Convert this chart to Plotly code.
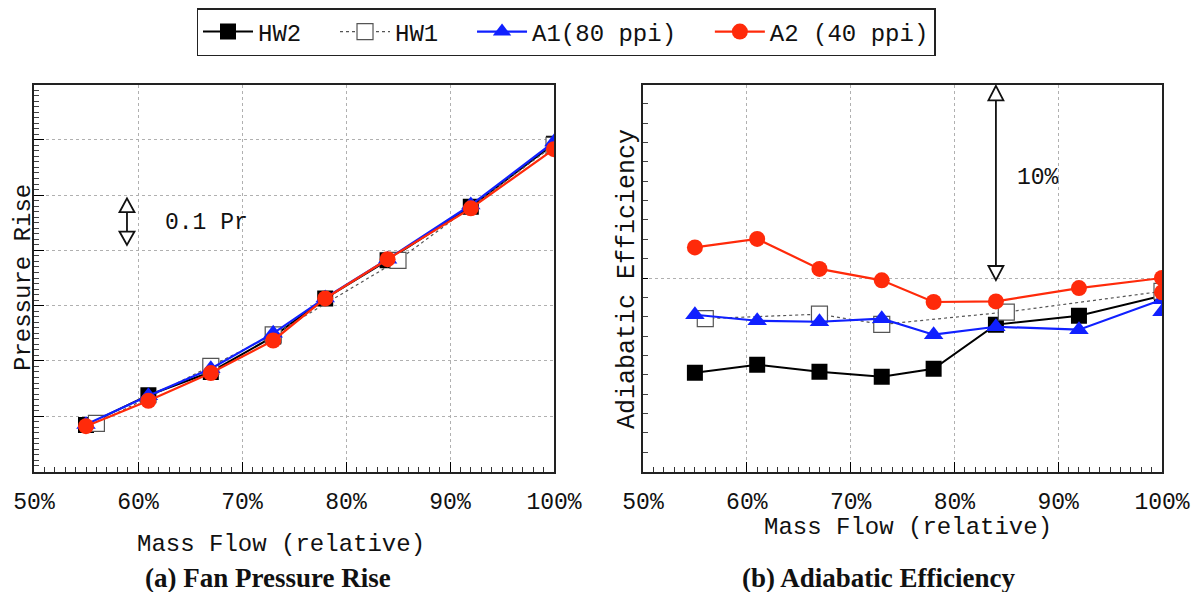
import plotly.graph_objects as go

# ---------------- data ----------------
# (a) Fan pressure rise (relative units, 1 grid = 0.1 Pr)
hw2_x = [55, 61, 67, 73, 78, 84, 92, 100]
hw2_pr = [0.84, 1.38, 1.80, 2.44, 3.13, 3.82, 4.79, 5.93]
hw1_x = [56, 67, 73, 85, 100]
hw1_pr = [0.87, 1.90, 2.47, 3.82, 5.90]
a1_x = [55, 61, 67, 73, 78, 84, 92, 100]
a1_pr = [0.85, 1.37, 1.86, 2.50, 3.14, 3.84, 4.82, 5.96]
a2_x = [55, 61, 67, 73, 78, 84, 92, 100]
a2_pr = [0.82, 1.28, 1.78, 2.37, 3.13, 3.84, 4.76, 5.83]

# (b) Adiabatic efficiency (relative, 1 unit = 1 %)
hw2_eff = [5.10, 5.52, 5.16, 4.90, 5.31, 7.59, 8.05, 9.08]
hw1_eff = [7.90, 8.13, 7.60, 8.24, 9.31]
a1_xe = [55, 61, 67, 73, 78, 84, 92, 100, 100]
a1_eff = [8.10, 7.79, 7.74, 7.90, 7.07, 7.48, 7.33, 8.88, 8.26]
a2_xe = [55, 61, 67, 73, 78, 84, 92, 100, 100]
a2_eff = [11.58, 12.02, 10.47, 9.88, 8.76, 8.79, 9.48, 10.00, 9.26]

x_ticks = [50, 60, 70, 80, 90, 100]
x_labels = ["50%", "60%", "70%", "80%", "90%", "100%"]

names = ["HW2", "HW1", "A1(80 ppi)", "A2 (40 ppi)"]

# ---------------- styles ----------------
MONO = "Liberation Mono"
SERIF = "Liberation Serif"
BLACK = "#000000"
BLUE = "#1020ff"
RED = "#ff2a0a"
W, H = 1200, 592
OFF = 8  # page body margin in the browser
PAD = "\u00a0\u00a0"  # spacing after legend entries

styles = {
    "HW2": dict(mode="lines+markers", line=dict(color=BLACK, width=2),
                marker=dict(symbol="square", size=16, color=BLACK)),
    "HW1": dict(mode="lines+markers", line=dict(color="#555555", width=1.2, dash="dot"),
                marker=dict(symbol="square", size=16, color="white",
                            line=dict(color="#555555", width=1.2))),
    "A1": dict(mode="lines+markers", line=dict(color=BLUE, width=2.2),
               marker=dict(symbol="triangle-up", size=17, color=BLUE)),
    "A2": dict(mode="lines+markers", line=dict(color=RED, width=2.2),
               marker=dict(symbol="circle", size=16, color=RED)),
}

fig = go.Figure()

series_left = [("HW2", hw2_x, hw2_pr), ("HW1", hw1_x, hw1_pr),
               ("A1", a1_x, a1_pr), ("A2", a2_x, a2_pr)]
series_right = [("HW2", hw2_x, hw2_eff), ("HW1", hw1_x, hw1_eff),
                ("A1", a1_xe, a1_eff), ("A2", a2_xe, a2_eff)]

for i, ((key, xs, ys), nm) in enumerate(zip(series_left, names)):
    label = nm + (PAD if i < len(names) - 1 else "")
    fig.add_trace(go.Scatter(x=xs, y=ys, name=label, xaxis="x", yaxis="y",
                             showlegend=True, **styles[key]))
for (key, xs, ys), nm in zip(series_right, names):
    fig.add_trace(go.Scatter(x=xs, y=ys, name=nm, xaxis="x2", yaxis="y2",
                             showlegend=False, **styles[key]))

def px2x(px):
    return (px - OFF) / W

def px2y(py):
    return 1 - (py - OFF) / H

xdom1 = [px2x(34), px2x(554)]
xdom2 = [px2x(643), px2x(1162)]
ydom = [px2y(471.5), px2y(84.5)]

xaxis_common = dict(
    range=[50, 100], tickvals=x_ticks, ticktext=x_labels,
    ticks="inside", ticklen=10, tickwidth=1.2, tickcolor=BLACK,
    minor=dict(dtick=1, ticks="inside", ticklen=5, tickwidth=1, tickcolor="#333333", showgrid=False),
    showgrid=True, gridcolor="#b0b0b0", griddash="dot", gridwidth=1,
    showline=True, linecolor="#222222", linewidth=2, mirror=True,
    tickfont=dict(family=MONO, size=23, color="#111111"),
    ticklabelstandoff=8, zeroline=False, fixedrange=True, automargin=False,
)

fig.update_layout(
    width=W, height=H,
    margin=dict(l=0, r=0, t=0, b=0, autoexpand=False),
    paper_bgcolor="white", plot_bgcolor="white",
    xaxis=dict(domain=xdom1, anchor="y", **xaxis_common),
    xaxis2=dict(domain=xdom2, anchor="y2", **xaxis_common),
    yaxis=dict(domain=ydom, anchor="x", range=[0, 7], dtick=1, automargin=False,
               showticklabels=False, ticks="inside", ticklen=10, tickcolor=BLACK,
               minor=dict(dtick=0.1, ticks="inside", ticklen=5, tickcolor="#444444", showgrid=False),
               showgrid=True, gridcolor="#b0b0b0", griddash="dot",
               showline=True, linecolor="#222222", linewidth=2, mirror=True, zeroline=False),
    yaxis2=dict(domain=ydom, anchor="x2", range=[0, 20], dtick=10, automargin=False,
                showticklabels=False, ticks="inside", ticklen=5, tickcolor=BLACK,
                minor=dict(dtick=1, ticks="inside", ticklen=5, tickcolor="#444444", showgrid=False),
                showgrid=True, gridcolor="#b0b0b0", griddash="dot",
                showline=True, linecolor="#222222", linewidth=2, mirror=True, zeroline=False),
    legend=dict(orientation="h", x=px2x(566), xanchor="center", y=px2y(8), yanchor="top",
                bordercolor="#222222", borderwidth=1.5, bgcolor="white",
                font=dict(family=MONO, size=24, color="#111111"),
                itemwidth=50),
    showlegend=True,
)

annotations = [
    dict(text="Pressure Rise", x=px2x(23), y=px2y(278), textangle=-90,
         font=dict(family=MONO, size=24, color="#111111")),
    dict(text="Adiabatic Efficiency", x=px2x(627), y=px2y(279), textangle=-90,
         font=dict(family=MONO, size=25, color="#111111")),
    dict(text="Mass Flow (relative)", x=px2x(281), y=px2y(544),
         font=dict(family=MONO, size=24, color="#111111")),
    dict(text="Mass Flow (relative)", x=px2x(908), y=px2y(527),
         font=dict(family=MONO, size=24, color="#111111")),
    dict(text="<b>(a) Fan Pressure Rise</b>", x=px2x(268), y=px2y(578),
         font=dict(family=SERIF, size=27, color="#111111")),
    dict(text="<b>(b) Adiabatic Efficiency</b>", x=px2x(878), y=px2y(578),
         font=dict(family=SERIF, size=27, color="#111111")),
    dict(text="0.1 Pr", x=px2x(206), y=px2y(223),
         font=dict(family=MONO, size=23, color="#111111")),
    dict(text="10%", x=px2x(1038), y=px2y(178),
         font=dict(family=MONO, size=23, color="#111111")),
]
for a in annotations:
    a.update(xref="paper", yref="paper", showarrow=False, xanchor="center", yanchor="middle")
fig.update_layout(annotations=annotations)

# double-headed arrows with open triangle heads
def dbl_arrow(xref, yref, xa, tip_top, base_top, base_bot, tip_bot, half=7.5):
    shapes = []
    common = dict(xref=xref, yref=yref, xsizemode="pixel", xanchor=xa,
                  line=dict(color="#111111", width=1.8))
    shapes.append(dict(type="path", fillcolor="white",
                       path=f"M 0 {tip_top} L {half} {base_top} L {-half} {base_top} Z", **common))
    shapes.append(dict(type="path", fillcolor="white",
                       path=f"M 0 {tip_bot} L {half} {base_bot} L {-half} {base_bot} Z", **common))
    shapes.append(dict(type="path", path=f"M 0 {base_top} L 0 {base_bot}", **common))
    return shapes

shapes = []
shapes += dbl_arrow("x", "y", 58.94, 4.94, 4.69, 4.34, 4.10)
shapes += dbl_arrow("x2", "y2", 84.0, 19.93, 19.18, 10.62, 9.89)
fig.update_layout(shapes=shapes)

fig.write_html("out.html")
